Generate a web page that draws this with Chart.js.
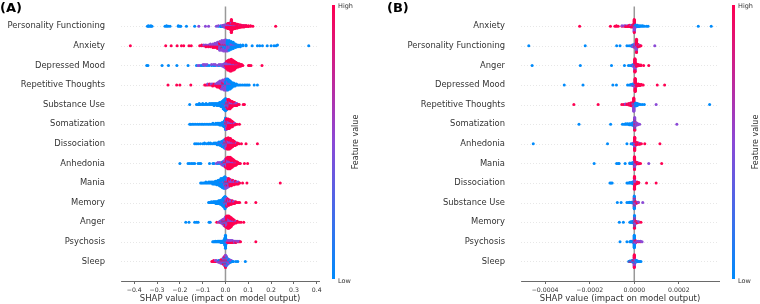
<!DOCTYPE html>
<html>
<head>
<meta charset="utf-8">
<script src="https://cdn.jsdelivr.net/npm/chart.js@4"></script>
<style>
  html, body { margin: 0; padding: 0; background: #ffffff; }
  #wrap { position: relative; width: 760px; height: 304px; overflow: hidden; }
  .panel { position: absolute; top: 0; width: 380px; height: 304px; }
</style>
</head>
<body>
<div id="wrap">
  <div class="panel" style="left:0"><canvas id="cA" width="380" height="304"></canvas></div>
  <div class="panel" style="left:380px"><canvas id="cB" width="380" height="304"></canvas></div>
</div>
<script>
// ---------------- DATA ----------------
// Feature order (top to bottom) for each panel
const featuresA = ["Personality Functioning","Anxiety","Depressed Mood","Repetitive Thoughts","Substance Use","Somatization","Dissociation","Anhedonia","Mania","Memory","Anger","Psychosis","Sleep"];
const featuresB = ["Anxiety","Personality Functioning","Anger","Depressed Mood","Repetitive Thoughts","Somatization","Anhedonia","Mania","Dissociation","Substance Use","Memory","Psychosis","Sleep"];

// feature-value levels used for colouring: low, mid, high
const featureLevels = [0, 0.5, 1];

// Each entry: [SHAP value, count low, count mid, count high]
const swarmA = [
  // Personality Functioning
  [[-0.342,1,0,0],[-0.338,2,0,0],[-0.333,1,0,0],[-0.327,2,0,0],[-0.322,1,0,0],[-0.265,1,0,0],[-0.258,2,0,0],[-0.251,1,0,0],[-0.243,1,0,0],
   [-0.207,2,0,0],[-0.2,1,0,0],[-0.196,1,0,0],[-0.171,1,0,0],[-0.135,1,0,0],[-0.117,0,1,0],[-0.088,0,1,0],[-0.074,0,1,0],
   [-0.04,0,1,0],[-0.031,1,1,0],[-0.021,2,1,0],[-0.013,2,2,0],[-0.006,2,3,1],[0,1,4,2],[0.005,0,5,5],[0.01,0,6,8],[0.016,0,6,10],
   [0.021,0,6,12],[0.026,0,5,13],[0.031,0,5,12],[0.036,0,4,12],[0.041,0,4,10],[0.046,0,3,9],[0.052,0,3,8],[0.057,0,2,6],
   [0.062,0,2,5],[0.067,0,1,5],[0.073,0,1,4],[0.081,0,1,4],[0.09,0,1,3],[0.1,0,0,3],[0.11,0,0,2],[0.12,0,0,1],[0.22,0,0,1]],
  // Anxiety
  [[-0.417,0,0,1],[-0.262,0,0,1],[-0.238,0,0,1],[-0.212,0,0,1],[-0.193,0,0,1],[-0.183,0,0,1],[-0.16,0,0,1],[-0.15,0,0,1],
   [-0.113,0,0,1],[-0.104,0,0,2],[-0.095,0,1,1],[-0.086,0,1,2],[-0.075,0,1,2],[-0.066,0,2,2],[-0.055,0,2,3],[-0.046,0,3,3],
   [-0.035,0,4,4],[-0.025,1,6,4],[-0.016,2,7,3],[-0.008,3,8,2],[0,4,8,2],[0.008,6,6,1],[0.016,7,4,1],[0.025,7,3,0],[0.034,6,2,0],
   [0.044,4,1,0],[0.054,3,0,0],[0.065,3,0,0],[0.076,2,0,0],[0.09,2,0,0],[0.117,1,0,0],[0.14,1,0,0],[0.15,1,0,0],[0.162,1,0,0],
   [0.183,1,0,0],[0.2,1,0,0],[0.213,1,0,0],[0.222,1,0,0],[0.228,1,0,0],[0.365,1,0,0]],
  // Depressed Mood
  [[-0.345,1,0,0],[-0.34,1,0,0],[-0.278,1,0,0],[-0.25,1,0,0],[-0.213,1,0,0],[-0.164,1,0,0],[-0.127,1,0,0],[-0.12,0,1,0],
   [-0.113,0,1,0],[-0.106,1,0,0],[-0.098,1,1,0],[-0.09,0,2,0],[-0.081,1,1,0],[-0.072,1,0,0],[-0.061,1,1,0],[-0.052,1,1,0],
   [-0.045,1,1,0],[-0.036,0,1,0],[-0.028,1,1,0],[-0.02,0,2,0],[-0.012,1,2,0],[-0.005,1,3,1],[0,0,4,3],[0.005,0,4,6],[0.01,0,4,9],
   [0.015,0,3,11],[0.02,0,3,12],[0.025,0,3,13],[0.03,0,2,12],[0.035,0,2,11],[0.04,0,2,9],[0.045,0,1,7],[0.05,0,1,5],
   [0.055,0,1,4],[0.06,0,1,3],[0.066,0,0,3],[0.071,0,0,2],[0.076,0,0,1],[0.101,0,0,1],[0.105,0,0,1],[0.112,0,0,1],[0.16,0,0,1]],
  // Repetitive Thoughts
  [[-0.252,0,0,1],[-0.214,0,0,1],[-0.2,0,0,1],[-0.152,0,0,1],[-0.091,0,0,1],[-0.085,0,0,1],[-0.078,0,1,1],[-0.07,0,0,2],
   [-0.063,0,1,1],[-0.056,0,1,2],[-0.05,0,0,2],[-0.043,0,1,2],[-0.036,0,2,3],[-0.03,0,3,3],[-0.024,0,4,4],[-0.018,0,5,4],
   [-0.012,1,6,3],[-0.006,2,7,2],[0,4,7,1],[0.005,6,5,1],[0.01,8,4,0],[0.015,8,2,0],[0.02,7,2,0],[0.025,6,1,0],[0.03,5,0,0],
   [0.036,4,0,0],[0.042,3,0,0],[0.048,2,0,0],[0.054,1,0,0],[0.06,1,0,0],[0.067,1,0,0],[0.075,1,0,0],[0.083,1,0,0],
   [0.09,1,0,0],[0.097,1,0,0],[0.104,1,0,0],[0.126,1,0,0],[0.14,1,0,0]],
  // Substance Use
  [[-0.157,1,0,0],[-0.127,1,0,0],[-0.12,1,0,0],[-0.115,2,0,0],[-0.108,1,0,0],[-0.1,2,0,0],[-0.093,1,0,0],[-0.085,2,0,0],
   [-0.078,1,0,0],[-0.07,2,0,0],[-0.063,2,0,0],[-0.056,2,0,0],[-0.05,3,0,0],[-0.044,2,0,0],[-0.038,3,0,0],[-0.032,3,0,0],
   [-0.026,4,0,0],[-0.02,5,0,0],[-0.015,6,0,0],[-0.01,8,1,0],[-0.005,10,1,0],[0,10,2,1],[0.005,5,3,3],[0.01,2,3,5],[0.015,1,3,6],
   [0.02,0,3,6],[0.025,0,2,5],[0.03,0,2,4],[0.035,0,1,3],[0.04,0,1,3],[0.045,0,1,2],[0.05,0,1,2],[0.055,0,0,1],[0.06,0,0,1],
   [0.078,0,0,1],[0.083,0,0,1]],
  // Somatization
  [[-0.157,1,0,0],[-0.152,1,0,0],[-0.145,1,0,0],[-0.138,1,0,0],[-0.13,1,0,0],[-0.122,1,0,0],[-0.115,1,0,0],[-0.107,1,0,0],
   [-0.1,1,0,0],[-0.093,1,0,0],[-0.085,1,0,0],[-0.077,1,0,0],[-0.07,1,0,0],[-0.063,1,0,0],[-0.055,2,0,0],[-0.048,1,0,0],
   [-0.042,2,0,0],[-0.035,2,0,0],[-0.03,2,0,0],[-0.025,3,0,0],[-0.02,3,0,0],[-0.015,4,0,0],[-0.01,5,0,0],[-0.005,7,1,0],
   [0,8,4,2],[0.004,3,5,5],[0.008,1,4,7],[0.012,0,4,8],[0.016,0,3,8],[0.02,0,3,7],[0.025,0,2,6],[0.03,0,2,5],[0.035,0,1,3],
   [0.04,0,1,2],[0.045,0,0,1],[0.05,0,0,1],[0.061,0,0,1]],
  // Dissociation
  [[-0.135,1,0,0],[-0.128,1,0,0],[-0.12,1,0,0],[-0.11,1,0,0],[-0.1,1,0,0],[-0.092,2,0,0],[-0.082,1,0,0],[-0.074,2,0,0],
   [-0.066,2,0,0],[-0.058,1,0,0],[-0.05,2,0,0],[-0.043,2,0,0],[-0.036,3,0,0],[-0.029,3,1,0],[-0.022,4,1,0],[-0.015,5,2,0],
   [-0.008,6,2,1],[-0.003,6,3,2],[0.002,3,4,5],[0.007,1,4,8],[0.012,0,4,10],[0.017,0,3,10],[0.022,0,3,9],[0.027,0,2,7],
   [0.032,0,2,6],[0.037,0,1,5],[0.042,0,1,4],[0.048,0,1,2],[0.053,0,0,2],[0.06,0,0,1],[0.07,0,0,1],[0.09,0,0,1],[0.14,0,0,1]],
  // Anhedonia
  [[-0.2,1,0,0],[-0.164,1,0,0],[-0.157,1,0,0],[-0.149,1,0,0],[-0.142,1,0,0],[-0.135,1,0,0],[-0.12,1,0,0],[-0.113,1,0,0],
   [-0.108,1,0,0],[-0.07,1,0,0],[-0.055,1,0,0],[-0.05,1,0,0],[-0.04,0,1,0],[-0.033,1,1,0],[-0.025,1,1,0],[-0.018,1,2,0],
   [-0.012,2,2,1],[-0.006,2,3,2],[0,2,4,4],[0.005,1,4,7],[0.01,0,4,10],[0.015,0,3,11],[0.02,0,3,11],[0.025,0,2,10],
   [0.03,0,2,8],[0.035,0,2,6],[0.04,0,1,5],[0.045,0,1,4],[0.05,0,1,3],[0.055,0,0,2],[0.06,0,0,1],[0.065,0,0,1],
   [0.083,0,0,1],[0.097,0,0,1]],
  // Mania
  [[-0.109,1,0,0],[-0.104,1,0,0],[-0.098,1,0,0],[-0.092,1,0,0],[-0.086,2,0,0],[-0.08,1,0,0],[-0.074,2,0,0],[-0.068,2,0,0],
   [-0.062,2,0,0],[-0.056,3,0,0],[-0.05,3,0,0],[-0.044,4,0,0],[-0.038,5,0,0],[-0.032,6,0,0],[-0.026,7,0,0],[-0.02,9,1,0],
   [-0.014,10,1,0],[-0.008,11,2,0],[-0.003,10,3,1],[0.002,5,5,3],[0.008,2,5,4],[0.014,1,4,5],[0.02,0,3,5],[0.026,0,3,4],
   [0.032,0,2,4],[0.038,0,2,3],[0.044,0,1,3],[0.05,0,1,2],[0.056,0,1,2],[0.062,0,0,1],[0.075,0,0,1],[0.094,0,0,1],[0.24,0,0,1]],
  // Memory
  [[-0.074,1,0,0],[-0.07,1,0,0],[-0.066,1,0,0],[-0.062,2,0,0],[-0.058,1,0,0],[-0.054,2,0,0],[-0.05,2,0,0],[-0.046,2,0,0],
   [-0.042,3,0,0],[-0.038,3,0,0],[-0.034,3,0,0],[-0.03,4,0,0],[-0.026,4,0,0],[-0.022,5,0,0],[-0.018,6,0,0],[-0.014,7,0,0],
   [-0.01,9,1,0],[-0.006,11,1,0],[-0.002,12,2,1],[0.002,6,4,2],[0.006,2,4,4],[0.01,1,3,4],[0.014,0,3,4],[0.018,0,2,4],
   [0.022,0,2,3],[0.026,0,2,3],[0.03,0,1,3],[0.035,0,1,2],[0.04,0,1,2],[0.045,0,0,2],[0.05,0,0,1],[0.056,0,0,1],
   [0.062,0,0,1],[0.09,0,0,1],[0.133,0,0,1]],
  // Anger
  [[-0.174,1,0,0],[-0.16,1,0,0],[-0.135,1,0,0],[-0.127,1,0,0],[-0.12,1,0,0],[-0.072,1,0,0],[-0.067,1,0,0],[-0.038,0,0,1],
   [-0.03,0,1,0],[-0.024,0,1,1],[-0.018,1,2,1],[-0.012,1,3,2],[-0.006,2,4,3],[0,2,5,5],[0.005,1,5,8],[0.01,1,4,10],
   [0.015,0,4,11],[0.02,0,3,10],[0.025,0,3,8],[0.03,0,2,6],[0.035,0,2,4],[0.04,0,1,3],[0.046,0,1,2],[0.052,0,0,2],
   [0.06,0,0,1],[0.068,0,0,1],[0.08,0,0,1]],
  // Psychosis
  [[-0.056,1,0,0],[-0.052,1,0,0],[-0.048,1,0,0],[-0.044,2,0,0],[-0.04,1,0,0],[-0.036,2,0,0],[-0.032,2,0,0],[-0.028,2,0,0],
   [-0.024,2,0,0],[-0.02,3,0,0],[-0.016,3,0,0],[-0.012,3,0,0],[-0.008,4,0,0],[-0.005,6,0,0],[-0.002,14,0,0],[0,22,1,0],
   [0.003,6,1,1],[0.006,2,1,1],[0.01,0,2,2],[0.015,0,2,2],[0.02,0,2,2],[0.025,0,2,2],[0.03,0,2,2],[0.035,0,1,2],[0.04,0,2,1],
   [0.045,0,1,2],[0.05,0,1,1],[0.055,0,1,1],[0.06,0,1,1],[0.066,0,0,1],[0.133,0,0,1]],
  // Sleep
  [[-0.06,0,0,1],[-0.056,0,0,1],[-0.052,0,0,2],[-0.048,0,0,1],[-0.044,0,1,1],[-0.04,0,1,1],[-0.036,0,1,0],[-0.03,1,1,1],
   [-0.025,1,1,1],[-0.02,1,2,2],[-0.015,1,2,2],[-0.01,2,3,3],[-0.006,2,3,4],[-0.003,3,4,5],[0,4,5,6],[0.003,4,4,4],
   [0.006,3,3,3],[0.01,3,2,2],[0.014,2,2,1],[0.018,2,1,1],[0.022,2,1,0],[0.026,1,1,0],[0.03,1,0,0],[0.035,1,0,0],
   [0.046,1,0,0],[0.054,1,0,0],[0.087,1,0,0]]
];

// Panel B values are in units of 1e-4
const unitB = 1e-4;
const swarmB = [
  // Anxiety
  [[-2.45,0,0,1],[-1.07,0,0,1],[-0.87,0,0,1],[-0.8,0,0,2],[-0.72,0,0,1],[-0.55,0,1,1],[-0.45,0,1,1],[-0.38,0,1,2],
   [-0.3,0,1,2],[-0.22,0,1,3],[-0.14,0,2,3],[-0.07,0,2,4],[0,3,13,16],[0.07,3,2,1],[0.14,3,1,0],[0.22,3,0,0],[0.3,2,0,0],
   [0.38,2,0,0],[0.46,1,0,0],[0.55,1,0,0],[0.62,1,0,0],[2.87,1,0,0],[3.45,1,0,0]],
  // Personality Functioning
  [[-4.73,1,0,0],[-2.2,1,0,0],[-0.79,1,0,0],[-0.64,1,0,0],[-0.33,1,0,0],[-0.23,1,0,0],[-0.12,2,1,0],[-0.05,2,2,1],
   [0.03,2,4,3],[0.1,1,12,16],[0.17,0,2,4],[0.24,0,1,2],[0.3,0,0,1],[0.92,0,1,0]],
  // Anger
  [[-4.58,1,0,0],[-2.42,1,0,0],[-1.02,1,0,0],[-0.44,1,0,0],[-0.26,1,0,0],[-0.18,1,0,0],[-0.1,2,1,0],[-0.04,2,2,1],
   [0.03,3,10,18],[0.1,0,2,4],[0.17,0,1,3],[0.24,0,0,2],[0.3,0,0,2],[0.42,0,0,1],[0.65,0,0,1]],
  // Depressed Mood
  [[-3.14,1,0,0],[-2.3,1,0,0],[-0.96,1,0,0],[-0.8,1,0,0],[-0.3,1,0,0],[-0.22,1,0,0],[-0.15,2,0,0],[-0.07,2,1,1],
   [0.04,3,6,20],[0.11,0,1,4],[0.18,0,1,3],[0.25,0,0,3],[0.32,0,0,2],[0.4,0,0,1],[1.03,0,0,1],[1.36,0,0,1]],
  // Repetitive Thoughts
  [[-2.71,0,0,1],[-1.62,0,0,1],[-0.56,0,0,1],[-0.48,0,0,1],[-0.4,0,1,1],[-0.32,0,0,2],[-0.24,0,1,3],[-0.16,0,2,4],
   [-0.08,0,3,5],[-0.02,3,12,12],[0.06,4,2,1],[0.13,4,1,0],[0.2,2,0,0],[0.28,1,0,0],[0.36,1,0,0],[0.45,1,0,0],[0.98,0,1,0],[3.38,1,0,0]],
  // Somatization
  [[-2.48,1,0,0],[-1.06,1,0,0],[-0.53,1,0,0],[-0.45,1,0,0],[-0.38,2,0,0],[-0.3,2,0,0],[-0.22,3,0,0],[-0.15,3,0,0],
   [-0.07,5,1,0],[0.02,8,10,10],[0.09,1,3,2],[0.16,0,2,1],[0.24,0,1,0],[1.91,0,1,0]],
  // Anhedonia
  [[-4.53,1,0,0],[-1.2,1,0,0],[-0.33,1,0,0],[-0.14,1,0,0],[-0.06,2,1,0],[0.02,3,8,18],[0.09,0,2,4],[0.16,0,1,3],
   [0.24,0,1,2],[0.32,0,0,1],[0.47,0,0,1],[1.15,0,0,1]],
  // Mania
  [[-1.8,1,0,0],[-0.79,1,0,0],[-0.72,1,0,0],[-0.68,1,0,0],[-0.41,1,0,0],[-0.2,2,0,0],[-0.12,2,0,0],[-0.05,3,1,0],
   [0.01,5,9,14],[0.07,1,2,3],[0.13,0,1,3],[0.2,0,1,2],[0.28,0,0,1],[0.65,0,1,0],[1.23,0,0,1]],
  // Dissociation
  [[-1.09,1,0,0],[-1.04,1,0,0],[-0.99,1,0,0],[-0.33,1,0,0],[-0.27,1,0,0],[-0.2,2,0,0],[-0.13,2,0,0],[-0.07,3,1,0],
   [0.01,4,8,18],[0.07,0,2,3],[0.13,0,1,3],[0.2,0,0,2],[0.55,0,0,1],[0.98,0,0,1]],
  // Substance Use
  [[-0.76,1,0,0],[-0.59,1,0,0],[-0.33,1,0,0],[-0.26,1,0,0],[-0.2,2,0,0],[-0.13,2,0,0],[-0.07,3,0,0],[0,12,8,8],
   [0.06,1,2,2],[0.12,0,1,2],[0.18,0,1,1],[0.38,0,1,0]],
  // Memory
  [[-0.67,1,0,0],[-0.49,1,0,0],[-0.2,1,0,0],[-0.15,2,0,0],[-0.1,2,0,0],[-0.05,3,1,0],[0.01,10,8,10],[0.07,1,2,2],
   [0.13,0,1,2],[0.2,0,1,1],[0.3,0,0,1]],
  // Psychosis
  [[-0.64,1,0,0],[-0.33,1,0,0],[-0.2,1,0,0],[-0.15,2,0,0],[-0.1,2,0,0],[-0.05,3,0,0],[0,18,4,4],[0.06,1,2,2],
   [0.12,0,1,1],[0.2,0,1,1],[0.28,0,1,1],[0.35,0,1,0]],
  // Sleep
  [[-0.25,1,0,0],[-0.2,1,0,1],[-0.15,1,0,1],[-0.1,2,1,1],[-0.05,2,1,2],[0,5,9,14],[0.05,2,2,2],[0.1,2,1,1],
   [0.15,2,0,0],[0.2,1,0,0],[0.25,1,0,0],[0.3,1,0,0]]
];

const xTicksA = [-0.4,-0.3,-0.2,-0.1,0,0.1,0.2,0.3,0.4];
const xTicksB = [-4,-2,0,2];
const xTitle = "SHAP value (impact on model output)";
const cbarLabels = ["High","Low"];
const cbarTitle = "Feature value";

// ---------------- RENDERING ----------------
const FONT = "DejaVu Sans";
function shapColor(f) {
  const stops = [[0,[0,139,251]],[0.5,[139,73,214]],[1,[255,0,82]]];
  let a = stops[0], b = stops[stops.length-1];
  for (let i = 0; i < stops.length-1; i++) {
    if (f >= stops[i][0] && f <= stops[i+1][0]) { a = stops[i]; b = stops[i+1]; break; }
  }
  const t = (f - a[0]) / ((b[0] - a[0]) || 1);
  const c = a[1].map((v, k) => Math.round(v + (b[1][k] - v) * t));
  return `rgb(${c[0]},${c[1]},${c[2]})`;
}

// SHAP-style beeswarm layout: bin values, stack alternately above/below the row
function buildSwarm(rows, scale) {
  const out = [];
  const n = rows.length;
  rows.forEach((row, i) => {
    const pos = n - 1 - i;
    const pts = [];
    row.forEach(([v, lo, mid, hi]) => {
      const left = [lo, mid, hi];
      const seq = [2, 0, 1];
      while (left[0] + left[1] + left[2] > 0) {
        for (const k of seq) if (left[k] > 0) { pts.push({ v: v * scale, f: featureLevels[k] }); left[k]--; }
      }
    });
    const vals = pts.map(p => p.v);
    const mn = Math.min(...vals), mx = Math.max(...vals);
    const nb = 100;
    pts.forEach(p => { p.q = Math.round(nb * (p.v - mn) / (mx - mn + 1e-12)); });
    const order = pts.map((p, k) => k).sort((a, b) => pts[a].q - pts[b].q || a - b);
    let layer = 0, last = null;
    const ys = new Array(pts.length);
    order.forEach(k => {
      if (pts[k].q !== last) { layer = 0; last = pts[k].q; }
      ys[k] = Math.ceil(layer / 2) * ((layer % 2) * 2 - 1);
      layer++;
    });
    const maxY = Math.max(...ys.map(y => y + 1));
    const s = 0.9 * 0.4 / maxY;
    pts.forEach((p, k) => out.push({ x: p.v, y: pos + ys[k] * s, f: p.f }));
  });
  return out;
}

function fmtMinus(s) { return s.replace('-', '\u2212'); }

function makeChart(id, rows, scale, names, xMin, xMax, xTicks, fmt, yWidth, padRight, letter) {
  const data = buildSwarm(rows, scale);
  const decor = {
    id: 'decor_' + id,
    beforeDatasetsDraw(chart) {
      const { ctx, chartArea: ca, scales: { x, y } } = chart;
      ctx.save();
      ctx.strokeStyle = 'rgba(204,204,204,0.8)';
      ctx.lineWidth = 0.6;
      ctx.setLineDash([1, 2]);
      names.forEach((nm, i) => {
        const py = Math.round(y.getPixelForValue(names.length - 1 - i)) + 0.5;
        ctx.beginPath(); ctx.moveTo(ca.left, py); ctx.lineTo(ca.right, py); ctx.stroke();
      });
      ctx.setLineDash([]);
      ctx.strokeStyle = '#999999';
      ctx.lineWidth = 1.5;
      const px = x.getPixelForValue(0);
      ctx.beginPath(); ctx.moveTo(px, ca.top); ctx.lineTo(px, ca.bottom); ctx.stroke();
      ctx.restore();
    },
    afterDraw(chart) {
      const { ctx, chartArea: ca } = chart;
      ctx.save();
      // colour bar
      const bx = ca.right + 13, bw = 3, top = 5, bot = 279;
      const g = ctx.createLinearGradient(0, bot, 0, top);
      for (let t = 0; t <= 1.0001; t += 0.1) g.addColorStop(Math.min(t, 1), shapColor(Math.min(t, 1)));
      ctx.fillStyle = g;
      ctx.fillRect(bx, top, bw, bot - top);
      ctx.fillStyle = '#333333';
      ctx.font = `6.5px "${FONT}"`;
      ctx.textAlign = 'left';
      ctx.textBaseline = 'middle';
      ctx.fillText(cbarLabels[0], bx + bw + 3, top + 1.5);
      ctx.fillText(cbarLabels[1], bx + bw + 3, bot + 2);
      ctx.save();
      ctx.translate(bx + bw + 21, (top + bot) / 2);
      ctx.rotate(-Math.PI / 2);
      ctx.font = `8px "${FONT}"`;
      ctx.textAlign = 'center';
      ctx.fillText(cbarTitle, 0, 0);
      ctx.restore();
      // panel letter
      ctx.fillStyle = '#000000';
      ctx.font = `bold 13px "${FONT}"`;
      ctx.textAlign = 'left';
      ctx.textBaseline = 'alphabetic';
      ctx.fillText(letter, id === 'cA' ? 0 : 7, 11.5);
      ctx.restore();
    }
  };
  return new Chart(document.getElementById(id), {
    type: 'scatter',
    data: {
      datasets: [{
        data,
        backgroundColor: data.map(p => shapColor(p.f)),
        pointRadius: 1.5,
        pointHoverRadius: 1.5,
        pointBorderWidth: 0,
        borderWidth: 0
      }]
    },
    options: {
      responsive: false,
      animation: false,
      devicePixelRatio: 1,
      events: [],
      layout: { padding: { left: 0, right: padRight, top: 6.6, bottom: 0 }, autoPadding: false },
      plugins: { legend: { display: false }, tooltip: { enabled: false } },
      scales: {
        x: {
          type: 'linear', min: xMin, max: xMax,
          afterBuildTicks: s => { s.ticks = xTicks.map(v => ({ value: v })); },
          afterFit: s => { s.height = 23; s.paddingLeft = 0; s.paddingRight = 0; },
          ticks: { callback: v => fmt(v), font: { family: FONT, size: 6.2 }, color: '#333333', padding: 2.4, maxRotation: 0, autoSkip: false },
          grid: { display: true, drawOnChartArea: false, drawTicks: true, tickLength: 3, tickColor: '#444444', tickWidth: 0.8 },
          border: { display: true, color: '#444444', width: 0.8 },
          title: { display: true, text: xTitle, font: { family: FONT, size: 8.5 }, color: '#333333', padding: { top: 0, bottom: 0 } }
        },
        y: {
          type: 'linear', min: -1, max: names.length,
          afterBuildTicks: s => { s.ticks = names.map((nm, i) => ({ value: names.length - 1 - i })); },
          afterFit: s => { s.width = yWidth; s.paddingTop = 0; s.paddingBottom = 0; },
          ticks: { callback: v => names[names.length - 1 - v], font: { family: FONT, size: 8.4 }, color: '#333333', padding: 16, autoSkip: false },
          grid: { display: false, drawTicks: false },
          border: { display: false }
        }
      }
    },
    plugins: [decor]
  });
}

makeChart('cA', swarmA, 1, featuresA, -0.458, 0.41, xTicksA,
  v => fmtMinus(v.toFixed(1)), 121, 61, '(A)');
makeChart('cB', swarmB, 1, featuresB, -5.08, 3.80, xTicksB,
  v => fmtMinus((v * unitB).toFixed(4)), 141, 41, '(B)');
</script>
</body>
</html>
